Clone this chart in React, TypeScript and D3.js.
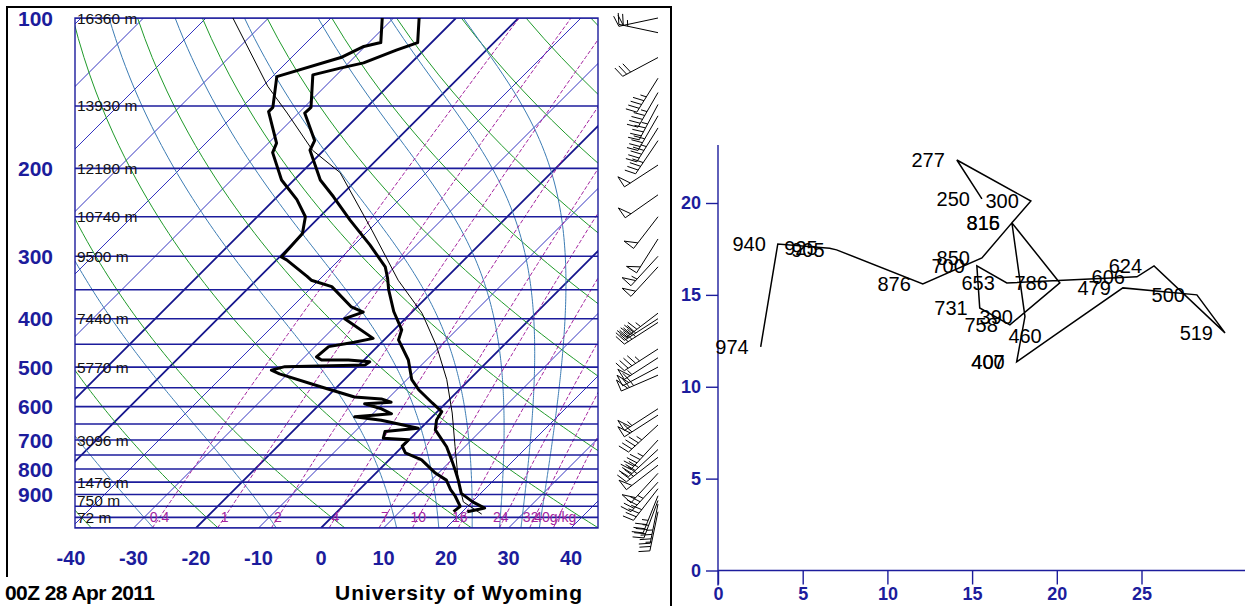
import React, { useEffect, useRef } from 'react';
import * as d3 from 'd3';

// sounding 00Z 28 Apr 2011, pressure (hPa) and temperature (C)
const tempP = [974, 965, 958, 931, 895, 842, 804, 767, 722, 668, 638, 614, 590, 555, 530, 484, 441, 421, 387, 350, 332, 315, 285, 254, 228, 211, 184, 176, 155, 151, 130, 126, 123, 116, 112, 100];
const tempC = [20.8, 22.0, 23.0, 20.1, 16.9, 14.3, 12.2, 10.0, 7.1, 2.6, 1.2, 0.7, -2.2, -6.5, -9.2, -12.9, -17.7, -18.8, -23.0, -27.3, -29.3, -31.5, -37.4, -44.6, -51.0, -55.8, -62.2, -63.0, -69.0, -68.9, -73.8, -70.5, -67.6, -64.4, -62.2, -65.9];

const dewP = [974, 950, 907, 880, 842, 815, 767, 743, 720, 699, 694, 673, 663, 639, 629, 620, 606, 592, 588, 579, 574, 548, 516, 507, 499, 495, 488, 484, 484, 477, 455, 446, 438, 400, 388, 379, 345, 335, 329, 305, 301, 270, 250, 231, 211, 186, 178, 154, 151, 131, 120, 114, 112, 100];
const dewC = [18.6, 18.8, 16.4, 14.6, 12.4, 9.5, 5.2, 1.5, -0.1, -0.1, -4.4, -5.2, -0.4, -7.6, -12.4, -7.0, -9.4, -12.9, -8.9, -11.0, -15.6, -22.5, -31.3, -33.2, -31.6, -19.0, -18.8, -22.5, -26.8, -28.1, -27.8, -24.4, -22.0, -29.7, -27.8, -30.5, -36.9, -41.2, -42.5, -48.4, -49.7, -50.1, -52.3, -56.4, -62.0, -67.8, -68.7, -75.0, -75.0, -79.3, -72.1, -70.2, -68.1, -71.8];

// lifted parcel
const parcelP = [985, 931, 842, 721, 618, 530, 455, 390, 335, 266, 204, 184, 155, 137, 100];
const parcelC = [23.5, 18.6, 14.3, 8.4, 2.6, -3.6, -10.5, -18.2, -27.3, -39.5, -53.8, -61.8, -71.8, -79.2, -95.7];

// background lines
const isobars = [100, 150, 200, 250, 300, 350, 400, 450, 500, 550, 600, 650, 700, 750, 800, 850, 900, 950, 1000, 1050];
const pressureTicks = [100, 200, 300, 400, 500, 600, 700, 800, 900];
const tempTicks = [-40, -30, -20, -10, 0, 10, 20, 30, 40];
const isotherms = [-120, -110, -100, -90, -80, -70, -60, -50, -40, -30, -20, -10, 0, 10, 20, 30, 40];
const boldIsotherms = [-60, -50, -20, 0];
const dryAdiabats = [233.15, 253.15, 273.15, 293.15, 313.15, 333.15, 353.15, 373.15, 393.15, 413.15, 433.15, 453.15];
const moistAdiabats = [-30, -10, 10, 17, 22.5, 27, 30.5, 33.5];
const mixingRatios = [0.4, 1, 2, 4, 7, 10, 16, 24, 32, 40];
const heightP = [100, 150, 200, 250, 300, 400, 500, 700, 850, 925, 1000];
const heightText = ['16360 m', '13930 m', '12180 m', '10740 m', '9500 m', '7440 m', '5770 m', '3096 m', '1476 m', '750 m', '72 m'];

// hodograph (m/s), labelled by pressure level
const hodoLabel = ['974', '940', '925', '905', '876', '850', '816', '786', '758', '731', '700', '653', '606', '624', '519', '500', '479', '460', '407', '400', '390', '315', '300', '277', '250'];
const hodoU = [2.52, 3.53, 6.59, 7.0, 12.09, 15.58, 17.35, 20.18, 17.23, 15.45, 15.28, 17.05, 24.73, 25.74, 29.93, 28.27, 23.9, 19.82, 17.63, 17.63, 18.12, 17.35, 18.47, 14.1, 15.58];
const hodoV = [12.17, 17.77, 17.54, 17.45, 15.6, 17.01, 18.92, 15.65, 13.37, 14.29, 16.58, 15.65, 15.98, 16.58, 12.93, 15.0, 15.38, 12.77, 11.36, 11.36, 13.82, 18.92, 20.11, 22.34, 20.22];
const hodoTicks = [0, 5, 10, 15, 20, 25];

// winds above 250 hPa (deg, kt)
const upperWindP = [100, 107, 120, 132, 141, 149, 157, 166, 176, 197, 226];
const upperWindDir = [258, 282, 242, 212, 210, 208, 210, 212, 214, 237, 235];
const upperWindKt = [20, 25, 30, 45, 45, 45, 40, 45, 40, 50, 50];

const FONT = 'Liberation Sans, Arial, Helvetica, sans-serif';
const NAVY = '#1c1c9c';

function dTdp(T: number, p: number) {
  const tc = T - 273.15;
  const es = 6.112 * Math.exp((17.67 * tc) / (tc + 243.5));
  const ws = (0.622 * es) / (p - es);
  const num = 287.04 * T + 2.501e6 * ws;
  const den = 1005.7 + (2.501e6 * 2.501e6 * ws * 0.622) / (287.04 * T * T);
  return num / (den * p);
}

function moistCurve(thw: number): [number, number][] {
  const up: [number, number][] = [];
  let T = thw + 273.15;
  let p = 1000;
  up.push([p, T]);
  while (p > 100) {
    const k1 = dTdp(T, p);
    const k2 = dTdp(T - (k1 * 5) / 2, p - 2.5);
    T -= k2 * 5;
    p -= 5;
    up.push([p, T]);
  }
  const down: [number, number][] = [];
  T = thw + 273.15;
  p = 1000;
  while (p < 1050) {
    const k1 = dTdp(T, p);
    const k2 = dTdp(T + (k1 * 5) / 2, p + 2.5);
    T += k2 * 5;
    p += 5;
    down.push([p, T]);
  }
  return [...down.reverse(), ...up].map(([pp, tt]) => [pp, tt - 273.15]);
}

function mixTd(w: number, p: number) {
  const e = (w * p) / (622 + w);
  const l = Math.log(e / 6.112);
  return (243.5 * l) / (17.67 - l);
}

export default function App() {
  const ref = useRef<SVGSVGElement>(null);

  useEffect(() => {
    const svg = d3.select(ref.current);
    svg.selectAll('*').remove();

    const y = d3.scaleLog().domain([100, 1050]).range([18, 528]);
    const xb = d3.scaleLinear().domain([-40, 40]).range([71, 571]);
    const sx = (t: number, p: number) => xb(t) + (528 - y(p));
    const line = d3
      .line<[number, number]>()
      .x(d => sx(d[1], d[0]))
      .y(d => y(d[0]));
    const pRange = d3.range(1050, 99, -10);

    svg
      .append('defs')
      .append('clipPath')
      .attr('id', 'skewclip')
      .append('rect')
      .attr('x', 75)
      .attr('y', 18)
      .attr('width', 523)
      .attr('height', 510);

    const g = svg.append('g').attr('clip-path', 'url(#skewclip)');

    // isotherms
    isotherms.forEach(t => {
      const bold = boldIsotherms.includes(t);
      g.append('path')
        .attr('d', line([[1050, t], [100, t]]))
        .attr('fill', 'none')
        .attr('stroke', bold ? '#14148c' : '#3434c0')
        .attr('stroke-width', bold ? 1.8 : 1);
    });

    // dry adiabats
    dryAdiabats.forEach(th => {
      const pts = pRange.map(p => [p, th * Math.pow(p / 1000, 0.2857) - 273.15] as [number, number]);
      g.append('path')
        .attr('d', line(pts))
        .attr('fill', 'none')
        .attr('stroke', '#1f9a2a')
        .attr('stroke-width', 1);
    });

    // moist adiabats
    moistAdiabats.forEach(thw => {
      g.append('path')
        .attr('d', line(moistCurve(thw)))
        .attr('fill', 'none')
        .attr('stroke', '#3c7cb4')
        .attr('stroke-width', 1);
    });

    // mixing ratio
    mixingRatios.forEach(w => {
      const pts = pRange.map(p => [p, mixTd(w, p)] as [number, number]);
      g.append('path')
        .attr('d', line(pts))
        .attr('fill', 'none')
        .attr('stroke', '#a4249f')
        .attr('stroke-width', 1)
        .attr('stroke-dasharray', '4,2');
    });

    // isobars
    isobars.forEach(p => {
      g.append('line')
        .attr('x1', 75)
        .attr('x2', 598)
        .attr('y1', y(p))
        .attr('y2', y(p))
        .attr('stroke', NAVY)
        .attr('stroke-width', 1.6);
    });

    svg
      .append('rect')
      .attr('x', 75)
      .attr('y', 18)
      .attr('width', 523)
      .attr('height', 510)
      .attr('fill', 'none')
      .attr('stroke', NAVY)
      .attr('stroke-width', 1.4);

    // height labels
    heightP.forEach((p, i) => {
      svg
        .append('text')
        .attr('x', 77)
        .attr('y', y(p))
        .attr('dominant-baseline', 'central')
        .style('font', `15.5px ${FONT}`)
        .attr('fill', '#111')
        .text(heightText[i]);
    });

    // mixing ratio labels
    mixingRatios.forEach((w, i) => {
      const last = i === mixingRatios.length - 1;
      const xx = sx(mixTd(w, 1000), 1000);
      svg
        .append('text')
        .attr('x', last ? xx - 24 : w >= 16 ? xx - 4 : xx)
        .attr('y', y(1000) + 5)
        .attr('text-anchor', last ? 'start' : 'middle')
        .style('font', `14px ${FONT}`)
        .attr('fill', '#a4249f')
        .text(last ? `${w}g/kg` : `${w}`);
    });

    // sounding
    const gs = svg.append('g').attr('clip-path', 'url(#skewclip)');
    gs.append('path')
      .attr('d', line(parcelP.map((p, i) => [p, parcelC[i]] as [number, number])))
      .attr('fill', 'none')
      .attr('stroke', '#000')
      .attr('stroke-width', 1);
    gs.append('path')
      .attr('d', line(dewP.map((p, i) => [p, dewC[i]] as [number, number])))
      .attr('fill', 'none')
      .attr('stroke', '#000')
      .attr('stroke-width', 3)
      .attr('stroke-linejoin', 'round');
    gs.append('path')
      .attr('d', line(tempP.map((p, i) => [p, tempC[i]] as [number, number])))
      .attr('fill', 'none')
      .attr('stroke', '#000')
      .attr('stroke-width', 3)
      .attr('stroke-linejoin', 'round');

    // axis labels
    pressureTicks.forEach(p => {
      svg
        .append('text')
        .attr('x', 53)
        .attr('y', y(p))
        .attr('text-anchor', 'end')
        .attr('dominant-baseline', 'central')
        .style('font', `bold 21px ${FONT}`)
        .attr('fill', NAVY)
        .text(p);
    });
    tempTicks.forEach(t => {
      svg
        .append('text')
        .attr('x', xb(t))
        .attr('y', 565)
        .attr('text-anchor', 'middle')
        .style('font', `bold 20px ${FONT}`)
        .attr('fill', NAVY)
        .text(t);
    });

    // wind barbs
    const barb = (x0: number, y0: number, ux: number, uy: number, kt: number) => {
      const L = 40;
      const tx = x0 + ux * L;
      const ty = y0 + uy * L;
      const fx = -uy;
      const fy = ux;
      let s = Math.round(kt / 5) * 5;
      let pos = 0;
      let d = `M${x0},${y0}L${tx},${ty}`;
      while (s >= 50) {
        const ax = tx - ux * pos;
        const ay = ty - uy * pos;
        const bx = tx - ux * (pos + 7);
        const by = ty - uy * (pos + 7);
        d += `M${ax},${ay}L${ax + fx * 12},${ay + fy * 12}L${bx},${by}`;
        pos += 9;
        s -= 50;
      }
      while (s >= 10) {
        const ax = tx - ux * pos;
        const ay = ty - uy * pos;
        d += `M${ax},${ay}L${ax + fx * 11 + ux * 3},${ay + fy * 11 + uy * 3}`;
        pos += 4.5;
        s -= 10;
      }
      if (s >= 5) {
        if (pos === 0) pos = 4.5;
        const ax = tx - ux * pos;
        const ay = ty - uy * pos;
        d += `M${ax},${ay}L${ax + fx * 6 + ux * 1.5},${ay + fy * 6 + uy * 1.5}`;
      }
      svg
        .append('path')
        .attr('d', d)
        .attr('fill', 'none')
        .attr('stroke', '#000')
        .attr('stroke-width', 1);
    };

    const stationX = 658;
    upperWindP.forEach((p, i) => {
      const a = (upperWindDir[i] * Math.PI) / 180;
      barb(stationX, y(p), Math.sin(a), -Math.cos(a), upperWindKt[i]);
    });
    hodoLabel.forEach((lab, i) => {
      const u = hodoU[i];
      const v = hodoV[i];
      const sp = Math.hypot(u, v);
      barb(stationX, y(+lab), -u / sp, v / sp, sp * 1.944);
    });

    // frame and captions
    const frame = 'M7,577L7,7L671,7L671,606';
    svg.append('path').attr('d', frame).attr('fill', 'none').attr('stroke', '#000').attr('stroke-width', 2);
    svg
      .append('text')
      .attr('x', 5)
      .attr('y', 600)
      .style('font', `bold 21px ${FONT}`)
      .attr('fill', '#000')
      .attr('textLength', 150)
      .text('00Z 28 Apr 2011');
    svg
      .append('text')
      .attr('x', 335)
      .attr('y', 600)
      .style('font', `bold 21px ${FONT}`)
      .attr('fill', '#000')
      .attr('textLength', 247)
      .text('University of Wyoming');

    // hodograph
    const hx = d3.scaleLinear().domain([0, 25]).range([718, 1141.5]);
    const hy = d3.scaleLinear().domain([0, 20]).range([570.5, 203]);

    const axY = svg
      .append('g')
      .attr('transform', `translate(${hx(0)},0)`)
      .call(d3.axisLeft(hy).tickValues([0, 5, 10, 15, 20]).tickSize(12).tickPadding(5));
    const axX = svg
      .append('g')
      .attr('transform', `translate(0,${hy(0)})`)
      .call(d3.axisBottom(hx).tickValues(hodoTicks).tickSize(14).tickPadding(3));
    [axY, axX].forEach(ax => {
      ax.select('.domain').remove();
      ax.selectAll('line').attr('stroke', NAVY).attr('stroke-width', 1.4);
      ax.selectAll('text').attr('fill', NAVY).style('font', `bold 18px ${FONT}`);
    });
    svg
      .append('line')
      .attr('x1', hx(0))
      .attr('x2', hx(0))
      .attr('y1', 145)
      .attr('y2', hy(0) + 15)
      .attr('stroke', NAVY)
      .attr('stroke-width', 1.4);
    svg
      .append('line')
      .attr('x1', hx(0))
      .attr('x2', 1245)
      .attr('y1', hy(0))
      .attr('y2', hy(0))
      .attr('stroke', NAVY)
      .attr('stroke-width', 1.4);

    const hodoLine = d3
      .line<number>()
      .x(i => hx(hodoU[i]))
      .y(i => hy(hodoV[i]));
    svg
      .append('path')
      .attr('d', hodoLine(d3.range(hodoLabel.length)))
      .attr('fill', 'none')
      .attr('stroke', '#000')
      .attr('stroke-width', 1.5);
    hodoLabel.forEach((lab, i) => {
      svg
        .append('text')
        .attr('x', hx(hodoU[i]) - 12)
        .attr('y', hy(hodoV[i]))
        .attr('text-anchor', 'end')
        .attr('dominant-baseline', 'central')
        .style('font', `20px ${FONT}`)
        .attr('fill', '#000')
        .text(lab);
    });
  }, []);

  return (
    <svg
      ref={ref}
      width={1245}
      height={606}
      style={{ position: 'absolute', left: 0, top: 0, background: '#fff', display: 'block' }}
    />
  );
}
